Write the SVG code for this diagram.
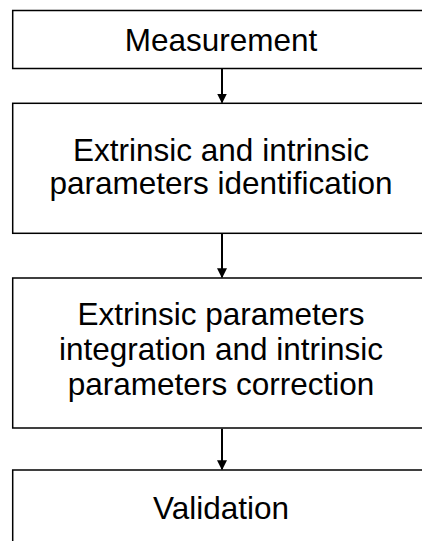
<svg xmlns="http://www.w3.org/2000/svg" width="422" height="541" viewBox="0 0 422 541">
<defs>
<style>
.box{fill:#fff;stroke:#000;stroke-width:1.5}
.t{font-family:"Liberation Sans",Arial,Helvetica,sans-serif;font-size:31.5px;fill:#000;text-anchor:middle}
.c{stroke:#000;stroke-width:2;fill:none}
</style>
<marker id="ah" markerWidth="10" markerHeight="10" refX="9" refY="5" orient="auto" markerUnits="userSpaceOnUse" viewBox="0 0 10 10">
<path d="M0,0 L10,5 L0,10 Z" fill="#000"/>
</marker>
</defs>
<rect width="422" height="541" fill="#fff"/>
<g id="n1">
<rect class="box" x="12.7" y="10.5" width="417" height="58"/>
<text class="t" x="221" y="50.5">Measurement</text>
</g>
<g id="n2">
<rect class="box" x="12.7" y="103.3" width="417" height="130"/>
<text class="t" x="221" y="161">Extrinsic and intrinsic</text>
<text class="t" x="221" y="194">parameters identification</text>
</g>
<g id="n3">
<rect class="box" x="12.7" y="278" width="417" height="150"/>
<text class="t" x="221" y="325">Extrinsic parameters</text>
<text class="t" x="221" y="360">integration and intrinsic</text>
<text class="t" x="221" y="395">parameters correction</text>
</g>
<g id="n4">
<rect class="box" x="12.7" y="470" width="417" height="90"/>
<text class="t" x="221" y="519">Validation</text>
</g>
<g id="connectors">
<line class="c" x1="222" y1="69" x2="222" y2="102.5" marker-end="url(#ah)"/>
<line class="c" x1="222" y1="234" x2="222" y2="277.3" marker-end="url(#ah)"/>
<line class="c" x1="222" y1="428.8" x2="222" y2="469.3" marker-end="url(#ah)"/>
</g>
</svg>
